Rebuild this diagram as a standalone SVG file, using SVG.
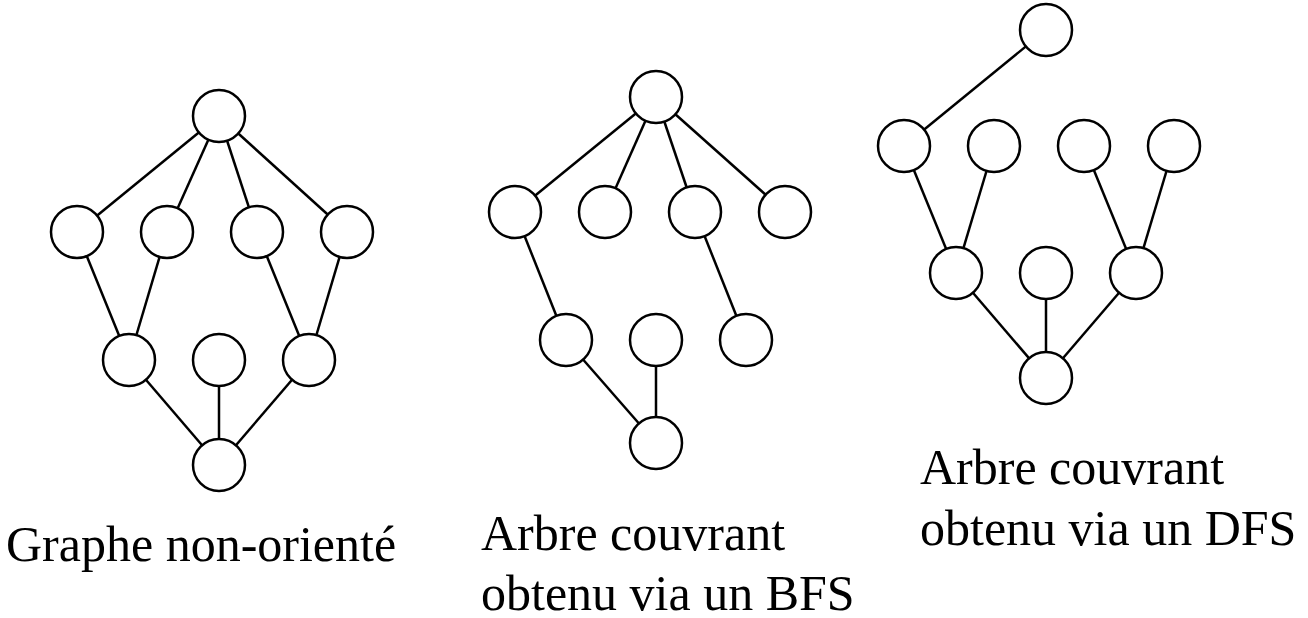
<svg xmlns="http://www.w3.org/2000/svg" width="1308" height="618" viewBox="0 0 1308 618">
<style>
line{stroke:#000;stroke-width:2.5}
circle{fill:#fff;stroke:#000;stroke-width:2.5}
text{font-family:"Liberation Serif",serif;font-size:50px;fill:#000}
</style>
<rect width="1308" height="618" fill="#fff"/>
<g id="connectors">
<line x1="219" y1="116" x2="77" y2="232"/><line x1="219" y1="116" x2="167" y2="232"/><line x1="219" y1="116" x2="257" y2="232"/><line x1="219" y1="116" x2="347" y2="232"/>
<line x1="77" y1="232" x2="129" y2="360"/><line x1="167" y1="232" x2="129" y2="360"/><line x1="257" y1="232" x2="309" y2="360"/><line x1="347" y1="232" x2="309" y2="360"/>
<line x1="129" y1="360" x2="219" y2="465"/><line x1="219" y1="360" x2="219" y2="465"/><line x1="309" y1="360" x2="219" y2="465"/>
<line x1="656" y1="97" x2="515" y2="212"/><line x1="656" y1="97" x2="605" y2="212"/><line x1="656" y1="97" x2="695" y2="212"/><line x1="656" y1="97" x2="785" y2="212"/>
<line x1="515" y1="212" x2="566" y2="340"/><line x1="695" y1="212" x2="746" y2="340"/><line x1="566" y1="340" x2="656" y2="443"/><line x1="656" y1="340" x2="656" y2="443"/>
<line x1="1046" y1="30" x2="904" y2="146"/><line x1="904" y1="146" x2="956" y2="273"/><line x1="994" y1="146" x2="956" y2="273"/><line x1="1084" y1="146" x2="1136" y2="273"/><line x1="1174" y1="146" x2="1136" y2="273"/>
<line x1="956" y1="273" x2="1046" y2="378"/><line x1="1046" y1="273" x2="1046" y2="378"/><line x1="1136" y1="273" x2="1046" y2="378"/>
</g>
<g id="g1">
<circle cx="219" cy="116" r="26"/><circle cx="77" cy="232" r="26"/><circle cx="167" cy="232" r="26"/><circle cx="257" cy="232" r="26"/><circle cx="347" cy="232" r="26"/>
<circle cx="129" cy="360" r="26"/><circle cx="219" cy="360" r="26"/><circle cx="309" cy="360" r="26"/><circle cx="219" cy="465" r="26"/>
<text x="6" y="561">Graphe non-orienté</text>
</g>
<g id="g2">
<circle cx="656" cy="97" r="26"/><circle cx="515" cy="212" r="26"/><circle cx="605" cy="212" r="26"/><circle cx="695" cy="212" r="26"/><circle cx="785" cy="212" r="26"/>
<circle cx="566" cy="340" r="26"/><circle cx="656" cy="340" r="26"/><circle cx="746" cy="340" r="26"/><circle cx="656" cy="443" r="26"/>
<text x="481" y="550">Arbre couvrant</text><text x="481" y="610">obtenu via un BFS</text>
</g>
<g id="g3">
<circle cx="1046" cy="30" r="26"/><circle cx="904" cy="146" r="26"/><circle cx="994" cy="146" r="26"/><circle cx="1084" cy="146" r="26"/><circle cx="1174" cy="146" r="26"/>
<circle cx="956" cy="273" r="26"/><circle cx="1046" cy="273" r="26"/><circle cx="1136" cy="273" r="26"/><circle cx="1046" cy="378" r="26"/>
<text x="920" y="484">Arbre couvrant</text><text x="920" y="545">obtenu via un DFS</text>
</g>
</svg>
